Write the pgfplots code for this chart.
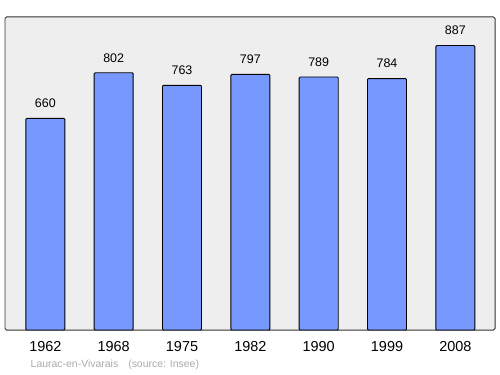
\documentclass[border=0pt]{standalone}
\usepackage{fontspec}
\setmainfont{Liberation Sans}
\usepackage{pgfplots}
\pgfplotsset{compat=1.18}
\definecolor{barblue}{HTML}{7799FF}
\definecolor{bggrey}{HTML}{EEEEEE}
\definecolor{srcgrey}{HTML}{AAAAAA}
\begin{document}
\begin{tikzpicture}[x=1bp,y=1bp]
\useasboundingbox (0,0) rectangle (500,374);
\begin{axis}[
  at={(5bp,44bp)}, anchor=south west,
  scale only axis, width=490bp, height=313bp,
  xmin=-0.59, xmax=6.58, ymin=0, ymax=976,
  axis background/.style={fill=bggrey},
  axis line style={draw=black!80, line width=1pt, rounded corners=1.5pt},
  xtick=data, xticklabels={1962,1968,1975,1982,1990,1999,2008},
  xtick style={draw=none}, ytick=\empty,
  xticklabel style={font=\fontsize{14.5}{16}\selectfont, anchor=center, yshift=-12bp},
  /pgf/number format/assume math mode=true,
  nodes near coords,
  every node near coord/.append style={font=\fontsize{12.5}{14}\selectfont, anchor=center, yshift=15bp},
  ybar, bar width=0.571,
  clip=false,
]
\addplot[fill=barblue, draw=black, line width=0.9pt, rounded corners=1pt] coordinates {
(0,660) (1,802) (2,763) (3,797) (4,789) (5,784) (6,887)};
\end{axis}
\node[anchor=west, text=srcgrey, font=\fontsize{10.5}{12}\selectfont, inner sep=0] at (30.5,9) {Laurac-en-Vivarais\hspace{10bp}(source: Insee)};
\end{tikzpicture}
\end{document}
